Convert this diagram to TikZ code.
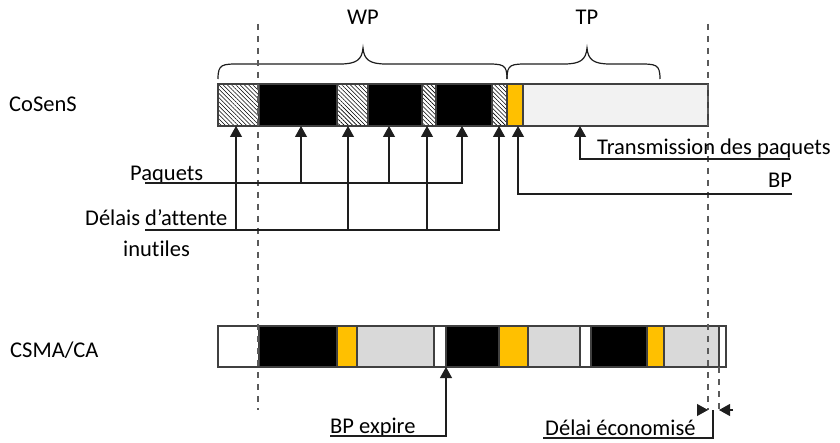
\documentclass[tikz,border=0pt]{standalone}
\usepackage{fontspec}
\setmainfont{Carlito}[Ligatures={NoCommon,NoContextual}]
\usetikzlibrary{arrows.meta,patterns.meta}
\tikzset{
  seg/.style={shape=rectangle,draw=segline,line width=1.3pt,inner sep=0pt,outer sep=0pt,minimum height=42pt},
  hatchseg/.style={seg,pattern={Lines[angle=-45,distance=3pt,line width=0.6pt]}},
  label/.style={anchor=base west,inner sep=0pt},
  pointer/.style={line width=1.1pt,draw=lineclr,-{Triangle[width=12pt,length=11pt]}},
  conn/.style={line width=1.1pt,draw=lineclr},
  guide/.style={line width=2pt,draw=guideclr,dash pattern=on 6pt off 6pt},
  brace/.style={line width=1.2pt,draw=lineclr}
}
\begin{document}
\begin{tikzpicture}[x=1pt,y=-1pt,font=\fontsize{22.5}{27}\selectfont]
\definecolor{segline}{RGB}{64,64,64}
\definecolor{lineclr}{RGB}{30,30,30}
\definecolor{guideclr}{RGB}{90,90,90}
\definecolor{bpclr}{RGB}{255,192,0}
\definecolor{tpclr}{RGB}{242,242,242}
\definecolor{txclr}{RGB}{217,217,217}
\useasboundingbox (0,0) rectangle (840,443);

% guides
\coordinate (glT) at (258,24);
\coordinate (glB) at (258,410);
\coordinate (grT) at (708,24);
\coordinate (grB) at (708,410);

% CoSenS bar
\node[label] (cosens) at (9,112) {CoSenS};
\node[hatchseg,minimum width=41pt] (h1) at (238.5,105) {};
\node[seg,fill=black,minimum width=78pt] (k1) at (298,105) {};
\node[hatchseg,minimum width=31pt] (h2) at (352.5,105) {};
\node[seg,fill=black,minimum width=54pt] (k2) at (395,105) {};
\node[hatchseg,minimum width=14pt] (h3) at (429,105) {};
\node[seg,fill=black,minimum width=56pt] (k3) at (464,105) {};
\node[hatchseg,minimum width=15pt] (h4) at (499.5,105) {};
\node[seg,fill=bpclr,minimum width=16pt] (bp) at (515,105) {};
\node[seg,fill=tpclr,minimum width=185pt] (tp) at (615.5,105) {};

% braces
\draw[brace] (h1.north west) ++(0,-5) .. controls (218,64) and (222,64) .. (240,64) -- (340,64)
  .. controls (356,64) and (362,60) .. (363,48) .. controls (364,60) and (370,64) .. (386,64) -- (485,64)
  .. controls (503,64) and (507,64) .. (507,79);
\draw[brace] (507,79) .. controls (507,64) and (511,64) .. (529,64) -- (564,64)
  .. controls (580,64) and (586,60) .. (587,48) .. controls (588,60) and (594,64) .. (610,64) -- (638,64)
  .. controls (656,64) and (660,64) .. (660,79);
\node (wp) at (363,17) {WP};
\node (tpl) at (587,17) {TP};

% CSMA/CA bar
\node[label] (csma) at (10,357) {CSMA/CA};
\node[seg,fill=white,minimum width=41pt,minimum height=41pt] (w1) at (238.5,346.5) {};
\node[seg,fill=black,minimum width=78pt,minimum height=41pt] (k4) at (298,346.5) {};
\node[seg,fill=bpclr,minimum width=20pt,minimum height=41pt] (o1) at (347,346.5) {};
\node[seg,fill=txclr,minimum width=77pt,minimum height=41pt] (g1) at (395.5,346.5) {};
\node[seg,fill=white,minimum width=12pt,minimum height=41pt] (w2) at (440,346.5) {};
\node[seg,fill=black,minimum width=53pt,minimum height=41pt] (k5) at (472.5,346.5) {};
\node[seg,fill=bpclr,minimum width=29pt,minimum height=41pt] (o2) at (513.5,346.5) {};
\node[seg,fill=txclr,minimum width=52pt,minimum height=41pt] (g2) at (554,346.5) {};
\node[seg,fill=white,minimum width=11pt,minimum height=41pt] (w3) at (585.5,346.5) {};
\node[seg,fill=black,minimum width=56pt,minimum height=41pt] (k6) at (619,346.5) {};
\node[seg,fill=bpclr,minimum width=17pt,minimum height=41pt] (o3) at (655.5,346.5) {};
\node[seg,fill=txclr,minimum width=55pt,minimum height=41pt] (g3) at (691.5,346.5) {};
\node[seg,fill=white,minimum width=7pt,minimum height=41pt] (w4) at (722.5,346.5) {};

\draw[guide] (glT) -- (glB);
\draw[guide] (grT) -- (grB);

% labels below CoSenS
\node[label] (paq) at (130,181) {Paquets};
\node[label] (del) at (85,226) {Délais d’attente};
\node[label] (inu) at (123,257) {inutiles};
\node[label] (trans) at (597,155) {Transmission des paquets};
\node[label] (bpl) at (768,188) {BP};
\coordinate (paqL) at (145,183);
\coordinate (delL) at (145,230);
\coordinate (transR) at (790,159);
\coordinate (transT) at (580,126);
\coordinate (bpR) at (792,194);

% arrow ends on the bar
\coordinate (aH1) at ([xshift=-2.5pt]h1.south);
\coordinate (aH2) at ([xshift=-4.5pt]h2.south);
\coordinate (aH3) at ([xshift=-2pt]h3.south);
\coordinate (aH4) at ([xshift=-0.5pt]h4.south);
\coordinate (aK1) at ([xshift=3pt]k1.south);
\coordinate (aK2) at ([xshift=-6pt]k2.south);
\coordinate (aK3) at ([xshift=-2pt]k3.south);
\coordinate (aBP) at ([xshift=3pt]bp.south);

\draw[pointer] (paqL) -| (aK3);
\draw[pointer] (aK1 |- paqL) -- (aK1);
\draw[pointer] (aK2 |- paqL) -- (aK2);
\draw[pointer] (delL) -| (aH4);
\draw[pointer] (aH1 |- delL) -- (aH1);
\draw[pointer] (aH2 |- delL) -- (aH2);
\draw[pointer] (aH3 |- delL) -- (aH3);
\draw[pointer] (transR) -| (transT);
\draw[pointer] (bpR) -| (aBP);

% labels below CSMA/CA
\node[label] (expire) at (330,433) {BP expire};
\node[label] (eco) at (545,435) {Délai économisé};
\coordinate (expL) at (330,436);
\coordinate (ecoL) at (543,438);
\coordinate (ecoT) at (713,410);
\coordinate (saveB) at (719,410);
\coordinate (arL) at (697,410);
\coordinate (arR) at (733,410);

\draw[pointer] (expL) -| (w2.south east);
\draw[guide] (g3.south east) -- (saveB);
\draw[pointer] (arL) -- (grB);
\draw[pointer] (arR) -- (saveB);
\draw[conn] (ecoL) -| (ecoT);
\end{tikzpicture}
\end{document}
